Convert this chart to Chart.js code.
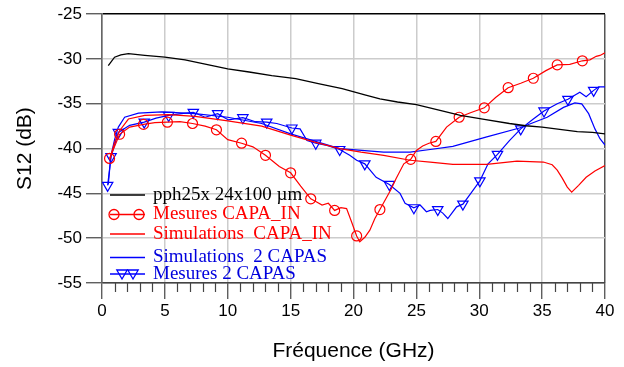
<!DOCTYPE html>
<html>
<head>
<meta charset="utf-8">
<script src="https://cdn.jsdelivr.net/npm/chart.js@4.4.1/dist/chart.umd.min.js"></script>
<style>
  html, body { margin: 0; padding: 0; background: #fff; }
  #wrap { width: 624px; height: 367px; }
</style>
</head>
<body>
<div id="wrap"><canvas id="grafica" width="624" height="367"></canvas></div>
<script>
// ---- donnees (GHz / dB) ----
const xTicks = [0, 5, 10, 15, 20, 25, 30, 35, 40];
const yTicks = [-55, -50, -45, -40, -35, -30, -25];

// pph25x 24x100 um
const transF = [0.5, 1.0, 1.5, 2.1, 3.4, 5.0, 6.6, 8.3, 10.0, 11.7, 13.5, 15.4, 17.2, 19.1, 20.9, 22.1, 23.5, 25.0, 26.8, 28.5, 30.4, 32.4, 33.7, 35.0, 36.4, 37.8, 39.0, 40];
const transDb = [-30.75, -29.8, -29.55, -29.4, -29.6, -29.8, -30.1, -30.6, -31.1, -31.45, -31.85, -32.2, -32.75, -33.3, -34.0, -34.45, -34.8, -35.1, -35.7, -36.3, -36.75, -37.2, -37.45, -37.6, -37.85, -38.1, -38.2, -38.35];

// Mesures CAPA_IN
const mesInF = [0.6, 1.4, 2.2, 3.3, 4.2, 5.2, 6.2, 7.2, 8.2, 9.1, 10.0, 11.1, 12.0, 13.0, 14.1, 15.0, 15.8, 16.6, 17.0, 17.5, 18.0, 18.5, 19.0, 19.45, 19.85, 20.25, 20.5, 20.9, 21.3, 21.7, 22.1, 22.65, 23.0, 23.4, 24.0, 24.55, 25.0, 25.5, 26.0, 26.55, 27.4, 28.4, 29.3, 30.4, 31.3, 32.3, 33.3, 34.3, 35.3, 36.2, 37.2, 38.2, 38.8, 39.3, 39.6, 40];
const mesInDb = [-41.1, -38.4, -37.6, -37.3, -37.1, -37.05, -37.0, -37.2, -37.5, -37.9, -39.0, -39.4, -39.8, -40.75, -42.0, -42.7, -44.2, -45.6, -45.9, -46.3, -46.1, -46.9, -46.6, -46.7, -48.2, -49.75, -50.4, -49.9, -49.1, -47.8, -46.8, -45.4, -44.5, -43.3, -41.7, -41.2, -40.2, -39.7, -39.4, -39.2, -37.6, -36.5, -36.0, -35.45, -34.3, -33.2, -32.7, -32.15, -31.3, -30.66, -30.6, -30.2, -30.1, -29.7, -29.6, -29.3];
const mesInMarks = [0.6, 1.4, 3.3, 5.2, 7.2, 9.1, 11.1, 13.0, 15.0, 16.6, 18.5, 20.25, 22.1, 24.55, 26.55, 28.4, 30.4, 32.3, 34.3, 36.2, 38.2];

// Simulations CAPA_IN
const simInF = [0.6, 1.0, 1.4, 2.1, 3.4, 5.3, 7.4, 10.0, 12.7, 15.0, 17.0, 18.9, 20.6, 22.4, 24.5, 26.1, 27.9, 30.6, 33.0, 35.1, 35.8, 36.2, 36.6, 37.0, 37.35, 37.9, 38.5, 39.2, 40];
const simInDb = [-41.3, -39.3, -38.0, -36.7, -36.3, -36.2, -36.4, -36.9, -37.5, -38.5, -39.3, -40.0, -40.4, -40.75, -41.3, -41.5, -41.75, -41.75, -41.4, -41.5, -41.8, -42.4, -43.3, -44.3, -44.85, -44.1, -43.2, -42.5, -41.9];

// Simulations 2 CAPAS
const sim2F = [0.5, 0.7, 1.0, 1.3, 1.8, 2.9, 4.75, 7.4, 10.0, 12.7, 15.0, 18.9, 22.4, 24.5, 26.1, 27.9, 30.6, 33.2, 35.4, 36.7, 37.6, 38.15, 38.7, 39.2, 39.6, 40];
const sim2Db = [-44.0, -40.9, -39.0, -37.6, -36.5, -36.05, -35.9, -36.1, -36.5, -37.2, -38.35, -40.0, -40.4, -40.4, -40.1, -39.75, -38.7, -37.7, -36.5, -35.4, -34.9, -35.0, -36.1, -37.8, -38.9, -39.6];

// Mesures 2 CAPAS
const mes2F = [0.45, 0.72, 1.3, 2.2, 3.36, 4.3, 5.3, 6.3, 7.26, 8.2, 9.2, 10.05, 11.2, 12.2, 13.1, 13.9, 15.1, 15.75, 16.3, 17.0, 17.9, 18.9, 19.7, 20.25, 20.9, 21.8, 22.85, 23.7, 24.1, 24.8, 25.3, 25.8, 26.1, 26.7, 27.1, 27.5, 28.2, 28.7, 29.4, 30.05, 30.7, 31.45, 32.4, 33.3, 34.3, 35.15, 36.2, 37.05, 38.0, 38.5, 39.1, 39.5, 40];
const mes2Db = [-44.1, -40.9, -38.2, -37.4, -37.05, -36.6, -36.3, -36.1, -35.95, -36.5, -36.1, -36.8, -36.55, -37.0, -37.05, -37.2, -37.7, -37.8, -39.1, -39.4, -39.65, -40.1, -40.75, -41.3, -41.7, -43.2, -44.0, -45.0, -46.1, -46.6, -46.3, -47.05, -46.9, -46.8, -47.2, -47.8, -46.5, -46.2, -44.85, -43.6, -41.7, -40.65, -39.1, -37.8, -36.7, -35.8, -35.0, -34.5, -33.7, -34.2, -33.5, -33.1, -33.1];
const mes2Marks = [0.45, 0.72, 1.3, 3.36, 5.3, 7.26, 9.2, 11.2, 13.1, 15.1, 17.0, 18.9, 20.9, 22.85, 24.8, 26.7, 28.7, 30.05, 31.45, 33.3, 35.15, 37.05, 39.1];

const legendNames = ["pph25x 24x100 \u00b5m", "Mesures CAPA_IN", "Simulations  CAPA_IN", "Simulations  2 CAPAS", "Mesures 2 CAPAS"];

const NOIR = "#000000";
const ROUGE = "#ff0000";
const BLEU = "#0000ff";
const couleurs = [NOIR, ROUGE, ROUGE, BLEU, BLEU];
const couleursTexte = [NOIR, ROUGE, ROUGE, "#0000dd", "#0000dd"];
const symboles = ["", "circle", "", "", "triangle"];

const pts = (xs, ys) => xs.map((x, i) => ({ x: x, y: ys[i] }));
const rayon = (marks, r) => (c) => (c.raw && marks.includes(c.raw.x) ? r : 0);

/********** leyenda dentro del grafico *******************/
const leyenda = {
  id: "leyenda",
  afterDatasetsDraw(chart) {
    const ctx = chart.ctx;
    const filas = [195, 214.5, 234, 257.5, 274];
    const x0 = 110, x1 = 145, xt = 153;
    ctx.save();
    ctx.font = "19px 'Liberation Serif'";
    ctx.textBaseline = "middle";
    ctx.textAlign = "left";
    filas.forEach((y, i) => {
      ctx.strokeStyle = couleurs[i];
      ctx.lineWidth = 1.3;
      ctx.beginPath();
      ctx.moveTo(x0, y);
      ctx.lineTo(x1, y);
      ctx.stroke();
      ctx.fillStyle = "rgba(0,0,0,0)";
      if (symboles[i] === "circle") {
        [114, 139].forEach(px => Chart.helpers.drawPoint(ctx, { pointStyle: "circle", radius: 5, borderWidth: 1.2, rotation: 0 }, px, y));
      } else if (symboles[i] === "triangle") {
        [122, 133].forEach(px => Chart.helpers.drawPoint(ctx, { pointStyle: "triangle", radius: 6, borderWidth: 1.2, rotation: 180 }, px, y - 1));
      }
      ctx.fillStyle = couleursTexte[i];
      ctx.fillText(legendNames[i], xt, y);
    });
    ctx.restore();
  }
};

/********** petites graduations de l'axe x *******************/
const graduations = {
  id: "graduations",
  afterDraw(chart) {
    const ctx = chart.ctx;
    const sx = chart.scales.x;
    const bas = chart.chartArea.bottom;
    ctx.save();
    ctx.strokeStyle = "#444";
    ctx.lineWidth = 1.2;
    for (let f = 1; f < 40; f++) {
      if (f % 5 === 0) continue;
      const px = Math.round(sx.getPixelForValue(f)) + 0.5;
      ctx.beginPath();
      ctx.moveTo(px, bas);
      ctx.lineTo(px, bas + 9);
      ctx.stroke();
    }
    ctx.restore();
  }
};

const police = { family: "'Liberation Sans', Arial, sans-serif", size: 17 };

new Chart(document.getElementById("grafica"), {
  type: "line",
  data: {
    datasets: [
      {
        label: legendNames[0],
        data: pts(transF, transDb),
        borderColor: NOIR,
        borderWidth: 1.3,
        pointRadius: 0
      },
      {
        label: legendNames[1],
        data: pts(mesInF, mesInDb),
        borderColor: ROUGE,
        borderWidth: 1.2,
        pointStyle: "circle",
        pointRadius: rayon(mesInMarks, 5),
        pointBorderColor: ROUGE,
        pointBackgroundColor: "rgba(0,0,0,0)",
        pointBorderWidth: 1.2
      },
      {
        label: legendNames[2],
        data: pts(simInF, simInDb),
        borderColor: ROUGE,
        borderWidth: 1.2,
        pointRadius: 0
      },
      {
        label: legendNames[3],
        data: pts(sim2F, sim2Db),
        borderColor: BLEU,
        borderWidth: 1.2,
        pointRadius: 0
      },
      {
        label: legendNames[4],
        data: pts(mes2F, mes2Db),
        borderColor: BLEU,
        borderWidth: 1.2,
        pointStyle: "triangle",
        pointRotation: 180,
        pointRadius: rayon(mes2Marks, 6),
        pointBorderColor: BLEU,
        pointBackgroundColor: "rgba(0,0,0,0)",
        pointBorderWidth: 1.2
      }
    ]
  },
  options: {
    responsive: false,
    animation: false,
    layout: { padding: { left: 0, top: 13, right: 19, bottom: 0 } },
    plugins: {
      legend: { display: false },
      tooltip: { enabled: false }
    },
    elements: { line: { tension: 0 } },
    scales: {
      x: {
        type: "linear",
        min: 0,
        max: 40,
        afterFit: (s) => { s.height = 84; },
        afterBuildTicks: (s) => { s.ticks = xTicks.map(v => ({ value: v })); },
        ticks: { font: police, color: "#000", padding: 2, maxRotation: 0 },
        grid: {
          color: (c) => (c.tick && c.tick.value === 40 ? "#555" : "#cccccc"),
          lineWidth: 1.5,
          tickLength: 16,
          tickColor: "#444",
          tickWidth: 1.2
        },
        border: { color: "#444", width: 1.3 },
        title: {
          display: true,
          text: "Fréquence (GHz)",
          color: "#000",
          font: { family: "'Liberation Sans', Arial, sans-serif", size: 21 },
          padding: { top: 0, bottom: 3 }
        }
      },
      y: {
        type: "linear",
        min: -55,
        max: -25,
        afterFit: (s) => { s.width = 102; },
        afterBuildTicks: (s) => { s.ticks = yTicks.map(v => ({ value: v })); },
        ticks: { font: police, color: "#000", padding: 4 },
        grid: {
          color: (c) => {
            if (!c.tick) return "#cccccc";
            if (c.tick.value === -25) return "#000";
            if (c.tick.value === -55) return "#444";
            return "#cccccc";
          },
          lineWidth: 1.5,
          tickLength: 16,
          tickColor: "#444",
          tickWidth: 1.2
        },
        border: { color: "#666", width: 1.6 },
        title: {
          display: true,
          text: "S12 (dB)",
          color: "#000",
          font: { family: "'Liberation Sans', Arial, sans-serif", size: 21 },
          padding: { top: 13, bottom: 0 }
        }
      }
    }
  },
  plugins: [leyenda, graduations]
});
</script>
</body>
</html>
